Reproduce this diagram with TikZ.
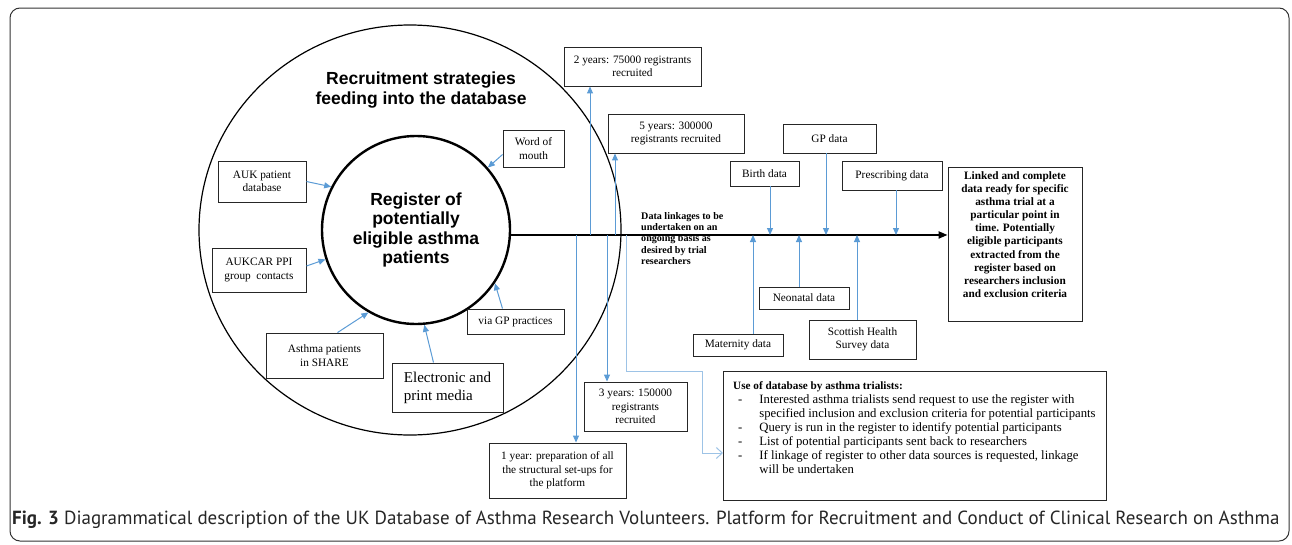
\documentclass[tikz,border=0pt]{standalone}
\usepackage{fontspec}
\setmainfont{Liberation Serif}
\setsansfont{Liberation Sans}
\newfontfamily\capfont{PT Sans}
\usepackage{xcolor}
\usetikzlibrary{arrows.meta}

\definecolor{linkblue}{HTML}{5B9BD5}
\definecolor{paleblue}{HTML}{9DC3E6}

\tikzset{
  box/.style={draw=black!85, line width=0.9pt, align=center, inner sep=0pt,
    font=\fontsize{11.3}{13.5}\selectfont},
  feed/.style={linkblue, line width=1pt, -{Triangle[length=7pt,width=6pt]}},
  headline/.style={align=center, font=\sffamily\bfseries\fontsize{17.5}{19.5}\selectfont}
}

\begin{document}
\begin{tikzpicture}[x=1pt, y=-1pt]
    \useasboundingbox (0,0) rectangle (1292,544);

    % Cadre
    \draw[rounded corners=10pt, line width=1pt, black!80] (10,8) rectangle (1289,541);

    % Cercles
    \draw[line width=1.2pt] (410,230) ellipse [x radius=211pt, y radius=205pt];
    \node[circle, draw, line width=2.4pt, minimum size=188pt, inner sep=0pt, headline] (reg) at (416,230)
        {Register of\\potentially\\eligible asthma\\patients};
    \node[headline] (rec) at (421,90) {Recruitment strategies\\feeding into the database};

    % Strategies de recrutement
    \node[box, minimum width=88pt, minimum height=41pt] (auk) at (262,181.5) {AUK patient\\database};
    \node[box, minimum width=94pt, minimum height=44pt] (aukcar) at (259,270) {AUKCAR PPI\\group\ \ contacts};
    \node[box, minimum width=117pt, minimum height=45pt] (share) at (324.5,355.5) {Asthma patients\\in SHARE};
    \node[box, minimum width=111pt, minimum height=49pt, align=left, font=\fontsize{15}{18}\selectfont] (media) at (447.5,387.5)
        {Electronic and\\print media\hspace{24pt}};
    \node[box, minimum width=97pt, minimum height=25pt] (gpprac) at (515.5,321.5) {via GP practices};
    \node[box, minimum width=61pt, minimum height=37pt] (wom) at (533.5,148.5) {Word of\\mouth};

    \draw[feed] (auk.east) -- (reg.153);
    \draw[feed] ([yshift=4pt]aukcar.east) -- (reg.198);
    \draw[feed] ([xshift=13pt]share.north) -- (reg.240);
    \draw[feed] ([xshift=-14pt]media.north) -- (reg.275);
    \draw[feed] ([xshift=-13pt]gpprac.north) -- (reg.326);
    \draw[feed] ([yshift=-6pt]wom.west) -- (reg.41);

    % Calendrier
    \node[box, minimum width=137pt, minimum height=39pt] (y2) at (632.5,66.5) {2 years: 75000 registrants\\recruited};
    \node[box, minimum width=136pt, minimum height=39pt] (y5) at (676,133.5) {5 years: 300000\\registrants recruited};
    \node[box, minimum width=103pt, minimum height=49pt] (y3) at (635.5,406.5) {3 years: 150000\\registrants\\recruited};
    \node[box, minimum width=137pt, minimum height=55pt] (y1) at (557.5,470.5)
        {1 year: preparation of all\\the structural set-ups for\\the platform};

    % Sources de donnees
    \node[box, minimum width=69pt, minimum height=25pt] (birth) at (764.5,173.5) {Birth data};
    \node[box, minimum width=93pt, minimum height=29pt] (gp) at (829.5,138.5) {GP data};
    \node[box, minimum width=100pt, minimum height=29pt] (presc) at (892,175.5) {Prescribing data};
    \node[box, minimum width=90pt, minimum height=22pt] (mat) at (738,345) {Maternity data};
    \node[box, minimum width=90pt, minimum height=22pt] (neo) at (804,298) {Neonatal data};
    \node[box, minimum width=107pt, minimum height=39pt] (scot) at (862.5,339.5) {Scottish Health\\Survey data};

    \node[box, minimum width=134pt, minimum height=154pt, font=\bfseries\fontsize{11.3}{13.1}\selectfont] (linked) at (1015,244)
        {Linked and complete\\data ready for specific\\asthma trial at a\\particular point in\\time. Potentially\\eligible participants\\extracted from the\\register based on\\researchers inclusion\\and exclusion criteria\\[6pt]};

    \node[anchor=north west, inner sep=0pt, align=left, font=\bfseries\fontsize{10.1}{11.3}\selectfont] (dl) at (641,212)
        {Data linkages to be\\undertaken on an\\ongoing basis as\\desired by trial\\researchers};

    % Axe principal
    \draw[line width=2pt, -{Triangle[length=9pt,width=7pt]}] (reg.357) -- (reg.357 -| linked.west);

    \coordinate (b1) at (576,235);
    \coordinate (b2) at (590,235);
    \coordinate (b3) at (607,235);
    \coordinate (b5) at (615,235);
    \coordinate (bu) at (626,235);
    \coordinate (cmat) at (753,235);
    \coordinate (cbirth) at (770,235);
    \coordinate (cneo) at (799,235);
    \coordinate (cgp) at (826,235);
    \coordinate (cscot) at (857,235);
    \coordinate (cpresc) at (896,235);

    \draw[feed] (b1) -- (b1 |- y1.north);
    \draw[feed] (b2) -- (b2 |- y2.south);
    \draw[feed] (b3) -- (b3 |- y3.north);
    \draw[feed] (b5) -- (b5 |- y5.south);

    \draw[feed] (cbirth |- birth.south) -- (cbirth);
    \draw[feed] (cgp |- gp.south) -- (cgp);
    \draw[feed] (cpresc |- presc.south) -- (cpresc);
    \draw[feed] (cmat |- mat.north) -- (cmat);
    \draw[feed] (cneo |- neo.north) -- (cneo);
    \draw[feed] (cscot |- scot.north) -- (cscot);

    % Utilisation
    \node[box, minimum width=383pt, minimum height=129pt, anchor=north west] (use) at (723,371) {};
    \node[anchor=north west, inner sep=0pt, align=left, font=\fontsize{12.7}{14}\selectfont] (usetxt) at (733,379)
        {\begin{tabular}{@{\hspace{5pt}}l@{\hspace{17pt}}l@{}}
         \multicolumn{2}{@{}l@{}}{\bfseries\fontsize{11.2}{14}\selectfont Use of database by asthma trialists:}\\
         - & Interested asthma trialists send request to use the register with\\
           & specified inclusion and exclusion criteria for potential participants\\
         - & Query is run in the register to identify potential participants\\
         - & List of potential participants sent back to researchers\\
         - & If linkage of register to other data sources is requested, linkage\\
           & will be undertaken
         \end{tabular}};
    \coordinate (bend) at (702,371);
    \coordinate (uin) at (723,453);
    \draw[paleblue, line width=1pt, -{Straight Barb[length=6pt,width=11pt]}] (bu) |- (bend) |- (uin);

    % Legende
    \node[anchor=west, inner sep=0pt, font=\capfont\fontsize{19}{22}\selectfont, black!85] (cap) at (12,520)
        {\textbf{Fig. 3} Diagrammatical description of the UK Database of Asthma Research Volunteers. Platform for Recruitment and Conduct of Clinical Research on Asthma};

\end{tikzpicture}
\end{document}
